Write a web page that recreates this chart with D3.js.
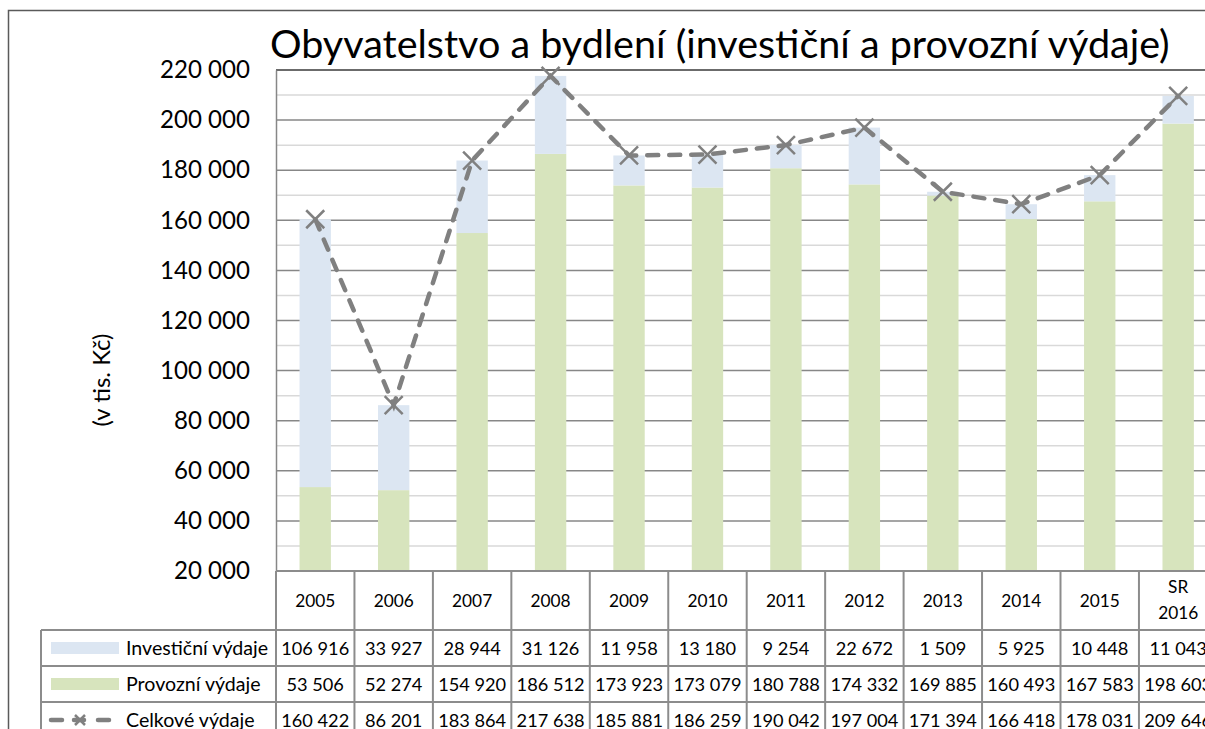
<!DOCTYPE html>
<html>
<head>
<meta charset="utf-8">
<script src="https://cdn.jsdelivr.net/npm/d3@7"></script>
<style>
  html, body { margin: 0; padding: 0; background: #fff; }
  svg { display: block; font-family: Lato, "Open Sans", sans-serif; }
</style>
</head>
<body>
<svg id="chart" width="1205" height="729"></svg>
<script>
// Category labels (the last one is split over two lines)
const categories = ["2005", "2006", "2007", "2008", "2009", "2010", "2011", "2012", "2013", "2014", "2015", "SR\n2016"];
// Investment spending (stacked on top)
const investicni = [106916, 33927, 28944, 31126, 11958, 13180, 9254, 22672, 1509, 5925, 10448, 11043];
// Operating spending (bottom of the stack)
const provozni = [53506, 52274, 154920, 186512, 173923, 173079, 180788, 174332, 169885, 160493, 167583, 198603];
// Total spending (dashed line)
const celkove = [160422, 86201, 183864, 217638, 185881, 186259, 190042, 197004, 171394, 166418, 178031, 209646];
const seriesNames = ["Investiční výdaje", "Provozní výdaje", "Celkové výdaje"];
const yTicks = [20000, 40000, 60000, 80000, 100000, 120000, 140000, 160000, 180000, 200000, 220000];
const titleText = "Obyvatelstvo a bydlení (investiční a provozní výdaje)";
const axisTitle = "(v tis. Kč)";

(function () {
const svg = d3.select("#chart");
const fmt = v => d3.format(",")(v).replace(/,/g, " ");

const colInv = "#dce6f2", colProv = "#d7e4bd", colLine = "#808080";
const gridMajor = "#878787", gridMinor = "#d9d9d9", tableLine = "#8c8c8c";

const plotLeft = 276, colW = 78.45, plotTop = 70, plotBottom = 571;
const x = d3.scaleBand().domain(d3.range(categories.length))
  .range([plotLeft, plotLeft + colW * categories.length]).padding(0);
const y = d3.scaleLinear().domain([20000, 220000]).range([plotBottom, plotTop]);
const barW = x.bandwidth() * 0.4;

// shrink or grow a text element's font so it spans the given width
function fit(sel, width) {
  sel.each(function () {
    const fs = parseFloat(this.getAttribute("font-size"));
    const w = this.getComputedTextLength();
    if (w > 0) this.setAttribute("font-size", (fs * width / w).toFixed(2));
  });
}

// outer chart frame
svg.append("path").attr("d", "M8.5,729 V10.5 H1205")
  .attr("fill", "none").attr("stroke", "#5a5a5a").attr("stroke-width", 1.5);

// title
svg.append("text").attr("x", 270).attr("y", 58).attr("font-size", 36)
  .attr("fill", "#000").text(titleText).call(fit, 900);

// minor gridlines
const minor = d3.range(30000, 220000, 20000);
svg.append("g").selectAll("line").data(minor).join("line")
  .attr("x1", plotLeft).attr("x2", 1205)
  .attr("y1", d => y(d)).attr("y2", d => y(d))
  .attr("stroke", gridMinor).attr("stroke-width", 1.5);

// major gridlines
svg.append("g").selectAll("line").data(yTicks.slice(1)).join("line")
  .attr("x1", plotLeft).attr("x2", 1205)
  .attr("y1", d => y(d)).attr("y2", d => y(d))
  .attr("stroke", d => d === 220000 ? "#3a3a3a" : gridMajor).attr("stroke-width", 1.5);

// y axis via d3.axisLeft, styled like the spreadsheet axis
const yAxis = svg.append("g").attr("transform", `translate(${plotLeft},0)`)
  .call(d3.axisLeft(y).tickValues(yTicks).tickFormat(fmt).tickSize(0).tickPadding(26));
yAxis.select(".domain").attr("stroke", gridMajor).attr("stroke-width", 1.5);
yAxis.selectAll("text").attr("font-size", 23).attr("fill", "#000")
  .attr("font-family", "Lato, 'Open Sans', sans-serif");
yAxis.selectAll("text").filter(d => d === 220000).call(fit, 90);
const tickFs = yAxis.selectAll("text").filter(d => d === 220000).attr("font-size");
yAxis.selectAll("text").attr("font-size", tickFs);

// axis title
svg.append("text").attr("transform", "translate(110,380) rotate(-90)")
  .attr("text-anchor", "middle").attr("font-size", 20).attr("fill", "#000")
  .text(axisTitle).call(fit, 93);

// stacked bars
const bars = svg.append("g");
bars.selectAll("rect.prov").data(provozni).join("rect").attr("class", "prov")
  .attr("x", (d, i) => x(i) + (x.bandwidth() - barW) / 2).attr("width", barW)
  .attr("y", d => y(d)).attr("height", d => y(20000) - y(d))
  .attr("fill", colProv);
bars.selectAll("rect.inv").data(investicni).join("rect").attr("class", "inv")
  .attr("x", (d, i) => x(i) + (x.bandwidth() - barW) / 2).attr("width", barW)
  .attr("y", (d, i) => y(provozni[i] + d)).attr("height", (d, i) => y(provozni[i]) - y(provozni[i] + d))
  .attr("fill", colInv);

// total line
const cx = i => x(i) + x.bandwidth() / 2;
const line = d3.line().x((d, i) => cx(i)).y(d => y(d));
svg.append("path").datum(celkove).attr("d", line)
  .attr("fill", "none").attr("stroke", colLine).attr("stroke-width", 4.5)
  .attr("stroke-dasharray", "11,11").attr("stroke-linecap", "round");

function cross(g, px, py, r) {
  g.append("path").attr("d", `M${px - r},${py - r}L${px + r},${py + r}M${px - r},${py + r}L${px + r},${py - r}`)
    .attr("stroke", colLine).attr("stroke-width", 2.5).attr("fill", "none");
}
const markers = svg.append("g");
celkove.forEach((v, i) => cross(markers, cx(i), y(v), 9));

// data table
const rowTop = [571, 630, 666, 702, 738];
const tbl = svg.append("g").attr("stroke", tableLine).attr("stroke-width", 2);
tbl.append("line").attr("x1", plotLeft).attr("x2", 1205).attr("y1", rowTop[0]).attr("y2", rowTop[0]);
rowTop.slice(1, 4).forEach(r => tbl.append("line").attr("x1", 41).attr("x2", 1205).attr("y1", r).attr("y2", r));
tbl.append("line").attr("x1", 41).attr("x2", 41).attr("y1", rowTop[1]).attr("y2", 729);
d3.range(categories.length + 1).forEach(i => {
  const xx = plotLeft + i * colW;
  tbl.append("line").attr("x1", xx).attr("x2", xx).attr("y1", rowTop[0]).attr("y2", 729);
});

// header labels
const hdr = svg.append("g").attr("font-size", 17).attr("text-anchor", "middle").attr("fill", "#000");
categories.forEach((c, i) => {
  const parts = c.split("\n");
  const t = hdr.append("text").attr("x", cx(i));
  if (parts.length === 1) {
    t.attr("y", 607).text(c);
  } else {
    parts.forEach((p, k) => t.append("tspan").attr("x", cx(i)).attr("y", 593 + k * 26).text(p));
  }
});

// value rows
const rows = [investicni, provozni, celkove];
const cellTxt = svg.append("g").attr("fill", "#000");
rows.forEach((vals, r) => {
  const cy = (rowTop[r + 1] + rowTop[r + 2]) / 2;
  vals.forEach((v, i) => cellTxt.append("text").attr("font-size", 18).attr("text-anchor", "middle")
    .attr("x", cx(i)).attr("y", cy + 6.5).text(fmt(v)));
});
cellTxt.select("text").call(fit, 68);
const cellFs = cellTxt.select("text").attr("font-size");
cellTxt.selectAll("text").attr("font-size", cellFs);
hdr.attr("font-size", cellFs * 0.95);

// legend keys inside the table
const leg = svg.append("g");
[colInv, colProv].forEach((c, r) => {
  const cy = (rowTop[r + 1] + rowTop[r + 2]) / 2;
  leg.append("rect").attr("x", 51).attr("y", cy - 6).attr("width", 68).attr("height", 12).attr("fill", c);
});
{
  const cy = (rowTop[3] + rowTop[4]) / 2;
  [[51, 62], [74, 84], [98, 109]].forEach(([a, b]) =>
    leg.append("line").attr("x1", a).attr("x2", b).attr("y1", cy).attr("y2", cy)
      .attr("stroke", colLine).attr("stroke-width", 4.5).attr("stroke-linecap", "round"));
  cross(leg, 80, cy, 5);
}
const legTxt = svg.append("g").attr("fill", "#000");
seriesNames.forEach((n, r) => {
  const cy = (rowTop[r + 1] + rowTop[r + 2]) / 2;
  legTxt.append("text").attr("font-size", cellFs).attr("x", 126).attr("y", cy + 6.5).text(n);
});
legTxt.select("text").call(fit, 142);
legTxt.selectAll("text").attr("font-size", legTxt.select("text").attr("font-size"));
})();
</script>
</body>
</html>
